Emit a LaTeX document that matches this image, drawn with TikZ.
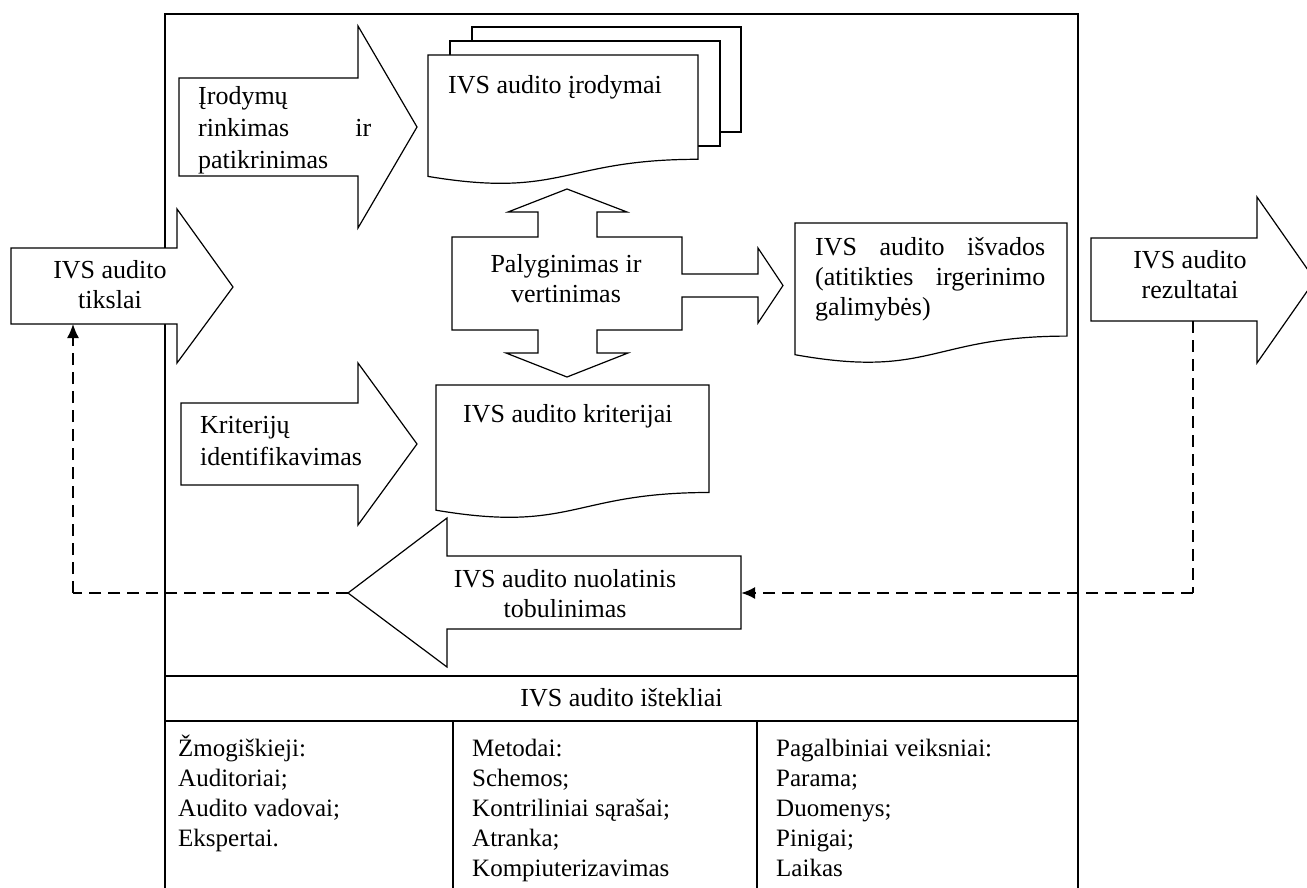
\documentclass[tikz,border=0pt]{standalone}
\usepackage{fontspec}
\setmainfont{Liberation Serif}
\usetikzlibrary{arrows.meta}
\begin{document}
\begin{tikzpicture}[x=1pt,y=-1pt,
  blk/.style={draw,line width=1.2pt,fill=white,line join=miter},
  frm/.style={draw,line width=1.5pt},
  txt/.style={inner sep=0pt,font=\fontsize{26}{30}\selectfont},
  txtw/.style={inner sep=0pt,font=\fontsize{26}{32}\selectfont},
  tbl/.style={inner sep=0pt,font=\fontsize{25}{30}\selectfont,align=left},
  dthin/.style={line width=1.4pt,dash pattern=on 12pt off 7pt},
  dthick/.style={line width=2.2pt,dash pattern=on 12pt off 7pt},
  tip/.style={-{Latex[length=14pt,width=12pt]}}]
\useasboundingbox (0,0) rectangle (1307,888);
\clip (0,0) rectangle (1307,888);
% outer frame and resources table
\draw[frm] (165,14) rectangle (1078,900);
\draw[frm] (165,676) -- (1078,676);
\draw[frm] (165,721) -- (1078,721);
\draw[frm] (453,721) -- (453,900);
\draw[frm] (757,721) -- (757,900);
\node[txt,anchor=base] (res) at (621.5,706) {IVS audito ištekliai};
\node[tbl,anchor=base west] (c1) at (178,846) {Žmogiškieji:\\Auditoriai;\\Audito vadovai;\\Ekspertai.};
\node[tbl,anchor=base west] (c2) at (472,876) {Metodai:\\Schemos;\\Kontriliniai sąrašai;\\Atranka;\\Kompiuterizavimas};
\node[tbl,anchor=base west] (c3) at (776,876) {Pagalbiniai veiksniai:\\Parama;\\Duomenys;\\Pinigai;\\Laikas};
% goals arrow (left)
\draw[blk] (11,248) -- (177,248) -- (177,209) -- (233,287) -- (177,363) -- (177,324) -- (11,324) -- cycle;
\coordinate (tikB) at (73,324);
\node[txt,anchor=base,align=center] (tik) at (110,308) {IVS audito\\tikslai};
% evidence arrow
\draw[blk] (179,78) -- (358,78) -- (358,26) -- (417,127) -- (358,228) -- (358,176) -- (179,176) -- cycle;
\node[txtw,anchor=base west,align=left] (ev) at (198,168) {Įrodymų\\\hbox to 173pt{rinkimas\hfill ir}\\patikrinimas};
% criteria arrow
\draw[blk] (181,403) -- (358,403) -- (358,363) -- (417,444) -- (358,525) -- (358,485) -- (181,485) -- cycle;
\node[txtw,anchor=base west,align=left] (kr) at (200,465) {Kriterijų\\identifikavimas};
% evidence documents (stack)
\draw[blk] (472,27) rectangle (741,132);
\draw[blk] (450,41) rectangle (720,146);
\draw[blk] (428,55) -- (698,55) -- (698,159.3) .. controls (563,159.3) and (563,198.9) .. (428,176.4) -- cycle;
\node[txt,anchor=base west] (ird) at (448,94) {IVS audito įrodymai};
% criteria document
\draw[blk] (436,385) -- (709,385) -- (709,492.5) .. controls (572.5,492.5) and (572.5,533.3) .. (436,510.2) -- cycle;
\node[txt,anchor=base west] (krit) at (463,422) {IVS audito kriterijai};
% comparison block with three arrows
\draw[blk] (452,237) -- (538,237) -- (538,212) -- (508,212) -- (567,189) -- (627,212) -- (597,212) -- (597,237) -- (682,237) -- (682,274) -- (758,274) -- (758,248) -- (783,285.5) -- (758,323) -- (758,297) -- (682,297) -- (682,330) -- (597,330) -- (597,353) -- (628,353) -- (567,377) -- (506,353) -- (538,353) -- (538,330) -- (452,330) -- cycle;
\node[txt,anchor=base,align=center] (pal) at (566,302) {Palyginimas ir\\vertinimas};
% conclusions document
\draw[blk] (795,223) -- (1067,223) -- (1067,336.1) .. controls (931,336.1) and (931,379.1) .. (795,354.7) -- cycle;
\node[txt,anchor=base west,align=left] (isv) at (815,315) {\hbox to 230pt{IVS\hfill audito\hfill išvados}\\\hbox to 230pt{(atitikties\hfill irgerinimo}\\galimybės)};
% results arrow (right)
\draw[blk] (1091,238) -- (1257,238) -- (1257,197) -- (1315,280) -- (1257,363) -- (1257,321) -- (1091,321) -- cycle;
\coordinate (resB) at (1193,321);
\node[txt,anchor=base,align=center] (rez) at (1190,298) {IVS audito\\rezultatai};
% improvement arrow (left-pointing)
\draw[blk] (741,556) -- (447,556) -- (447,518) -- (348,593) -- (447,667) -- (447,629) -- (741,629) -- cycle;
\coordinate (nuoR) at (741,593);
\coordinate (nuoP) at (348,593);
\node[txt,anchor=base,align=center] (nuo) at (565,617) {IVS audito nuolatinis\\tobulinimas};
% feedback dashed connectors
\coordinate (cR) at (1193,593);
\coordinate (cL) at (73,593);
\draw[dthin] (resB) -- (cR);
\draw[dthick,tip] (cR) -- (nuoR);
\draw[dthick] (nuoP) -- (cL);
\draw[dthin,tip] (cL) -- (tikB);
\end{tikzpicture}
\end{document}
